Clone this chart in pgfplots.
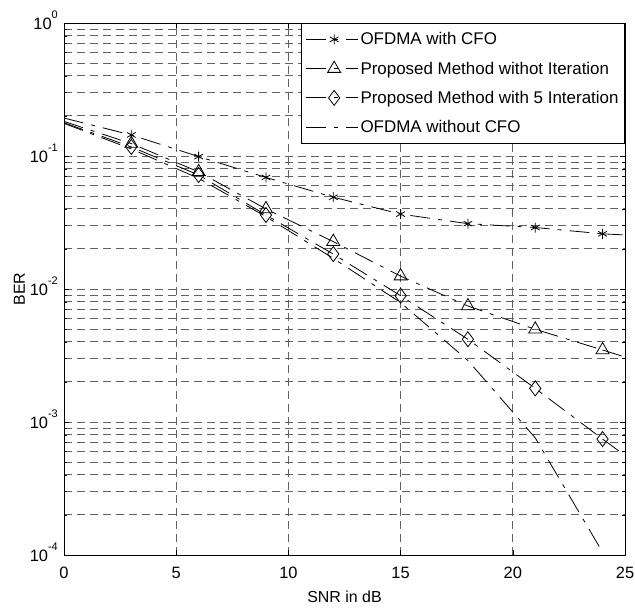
\documentclass[border=0pt]{standalone}
\usepackage{fontspec}
\setmainfont{Liberation Sans}
\usepackage{pgfplots}
\pgfplotsset{compat=1.18}

% 10^k written in the text font
\newcommand\ep[1]{10\raisebox{11bp}{\fontsize{11}{11}\selectfont #1}}

\pgfplotsset{
  berline/.style={black, line width=0.8bp,
    dash pattern=on 20bp off 8bp on 4bp off 8bp,
    mark phase=2, mark repeat=1,
    mark options={solid, line width=0.8bp}},
  gridline/.style={black!62, line width=1bp, dash pattern=on 8bp off 5bp},
}

\begin{document}
\begin{tikzpicture}
\path[use as bounding box] (0,0) rectangle (635bp,612bp);
\begin{axis}[
  at={(64bp,57bp)}, anchor=south west,
  scale only axis, width=561bp, height=532bp,
  ymode=log, xmin=0, xmax=25, ymin=1e-4, ymax=1,
  xtick={0,5,10,15,20,25},
  xticklabels={0,5,10,15,20,25},
  ytick={1e-4,1e-3,1e-2,1e-1,1},
  yticklabels={\ep{-4},\ep{-3},\ep{-2},\ep{-1},\ep{0}},
  tick align=inside,
  major tick length=5bp, minor tick length=3bp,
  every tick/.style={black, line width=0.6bp},
  axis line style={line width=1bp},
  grid=both, xminorgrids=false,
  major grid style={gridline},
  minor grid style={gridline},
  xticklabel style={font=\fontsize{16.5}{16.5}\selectfont, inner sep=0pt, anchor=north, yshift=-12bp},
  yticklabel style={font=\fontsize{16.5}{16.5}\selectfont, inner sep=0pt, anchor=base east, xshift=-6bp, yshift=-6bp},
  xlabel={SNR in dB}, ylabel={BER},
  xlabel style={font=\fontsize{16}{16}\selectfont, at={(axis description cs:0.5,-0.068)}, anchor=north, inner sep=0pt},
  ylabel style={font=\fontsize{16}{16}\selectfont, at={(axis description cs:-0.0695,0.5)}, anchor=south, inner sep=0pt},
  legend style={at={(1,1)}, anchor=north east, draw=black, line width=1bp,
    font=\fontsize{17}{17}\selectfont, cells={anchor=west}, row sep=11.5bp,
    inner xsep=4bp, inner ysep=7bp},
  legend image code/.code={
    \draw[#1, mark repeat=2] plot coordinates {(0bp,0bp) (28bp,0bp) (44bp,0bp)};
    \path (0bp,0bp) -- (52bp,0bp);},
]
\addplot[berline, mark=asterisk, mark size=5bp] coordinates
  {(0,0.193) (3,0.144) (6,0.099) (9,0.069) (12,0.049) (15,0.0366) (18,0.031) (21,0.029) (24,0.026)};
\addplot[berline, mark=triangle, mark size=7.5bp] coordinates
  {(0,0.182) (3,0.124) (6,0.076) (9,0.040) (12,0.0227) (15,0.0125) (18,0.00745) (21,0.00498) (24,0.00348)};
\addplot[berline, mark=diamond, mark size=7.5bp] coordinates
  {(0,0.178) (3,0.117) (6,0.072) (9,0.036) (12,0.0183) (15,0.0089) (18,0.00419) (21,0.00179) (24,0.000745)};
\addplot[berline] coordinates
  {(0,0.176) (3,0.113) (6,0.068) (9,0.035) (12,0.017) (15,0.0079) (18,0.0029) (21,0.00076) (24,0.000105)};
% tails past the last marker
\addplot[berline, forget plot] coordinates {(24,0.026) (25,0.0255)};
\addplot[berline, forget plot] coordinates {(24,0.00348) (25,0.00308)};
\addplot[berline, forget plot] coordinates {(24,0.000745) (25,0.00056)};
\legend{OFDMA with CFO, Proposed Method withot Iteration, Proposed Method with 5 Interation, OFDMA without CFO}
\end{axis}
\end{tikzpicture}
\end{document}
